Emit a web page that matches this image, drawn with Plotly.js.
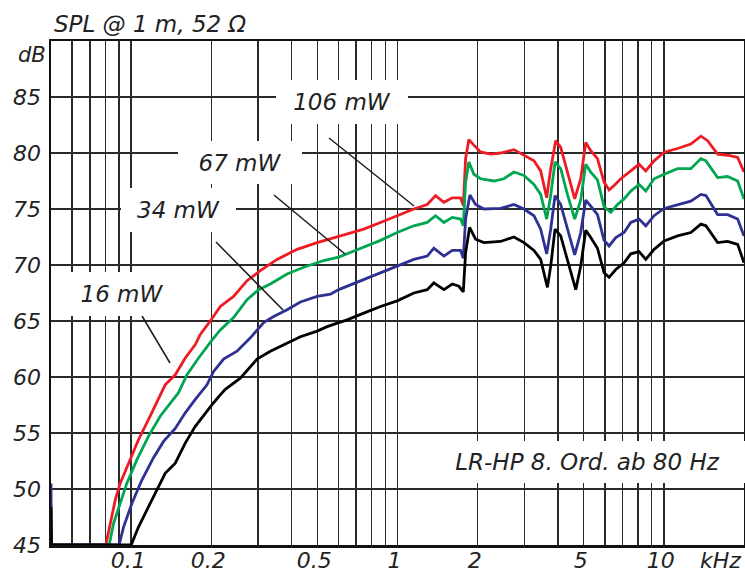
<!DOCTYPE html>
<html>
<head>
<meta charset="utf-8">
<script src="https://cdn.plot.ly/plotly-3.0.1.min.js"></script>
<style>body{margin:0;background:#fff}</style>
</head>
<body>
<div id="chart" style="width:745px;height:572px"></div>
<script>
// Frequency (kHz) / SPL (dB) readings per power level
const f106 = [0.05,0.0502,0.0803,0.0834,0.0871,0.0909,0.0977,0.1065,0.1161,0.1249,0.1342,0.1464,0.1596,0.1741,0.1817,0.1982,0.2161,0.2424,0.2723,0.3055,0.3530,0.4198,0.4991,0.6017,0.6470,0.7468,0.8633,0.9974,1.1515,1.2931,1.3895,1.4934,1.6057,1.7254,1.766,1.8018,1.8535,1.9357,2.0512,2.2367,2.4384,2.7361,2.9840,3.2537,3.4479,3.6325,3.7606,3.9264,4.1007,4.3451,4.6286,4.8753,5.0912,5.3163,5.6342,5.9654,6.2295,6.5055,6.8928,7.5158,8.0740,8.5561,9.1927,10.025,11.26,12.63,13.78,14.60,15.92,17.36,18.93,20];
const spl106 = [46.2,45,45,46.9,49.0,50.5,52.3,54.4,56.2,57.8,59.3,60.2,61.7,62.9,63.8,65.0,66.3,67.2,68.6,69.5,70.5,71.4,72.0,72.55,72.75,73.2,73.8,74.4,75.0,75.4,76.2,75.6,76.0,76.0,75.3,79.5,81.2,80.7,80.1,79.9,80.0,80.3,79.8,79.3,78.4,76.0,78.6,81.1,80.5,78.3,75.9,77.7,80.95,80.2,79.5,77.4,76.7,77.1,77.7,78.4,79.0,78.4,79.3,80.07,80.4,80.8,81.5,81.1,79.9,79.8,79.6,78.3];

const f67 = [0.05,0.0502,0.0827,0.0858,0.0909,0.0963,0.1050,0.1161,0.1285,0.1422,0.1506,0.1620,0.1791,0.2011,0.2161,0.2424,0.2723,0.3010,0.3331,0.3850,0.4444,0.5284,0.6017,0.6470,0.7468,0.8633,0.9974,1.1515,1.2931,1.3895,1.4934,1.6057,1.7254,1.766,1.8018,1.8535,1.9357,2.0512,2.3015,2.5091,2.7361,2.9840,3.2537,3.4479,3.6325,3.7606,3.9034,4.1007,4.3451,4.6286,4.8753,5.0912,5.3163,5.6342,5.9654,6.3223,6.6988,7.0930,7.5158,8.0740,8.5561,9.1927,10.025,11.26,12.63,13.78,14.39,15.92,17.36,18.93,20];
const spl67 = [45.7,45,45,46.9,48.7,50.5,52.6,54.7,56.5,57.8,58.6,60.2,61.7,63.3,64.2,65.3,66.9,67.8,68.3,69.2,69.8,70.4,70.7,71.0,71.6,72.2,72.9,73.5,73.8,74.4,73.8,74.25,74.1,73.5,77.4,79.2,78.1,77.7,77.5,77.7,78.3,78.0,77.2,76.3,74.1,76.2,79.2,78.6,76.3,74.1,75.8,79.0,78.3,77.6,75.2,74.7,75.4,75.9,76.6,77.2,76.6,77.7,78.1,78.6,78.6,79.5,79.3,77.8,77.9,77.5,75.9];

const f34 = [0.05,0.0502,0.0901,0.0936,0.1006,0.1097,0.1213,0.1323,0.1464,0.1596,0.1741,0.1926,0.2040,0.2223,0.2497,0.2802,0.3143,0.3428,0.3850,0.4319,0.4991,0.5601,0.6017,0.6470,0.7468,0.8633,0.9974,1.1515,1.2931,1.3692,1.4934,1.6057,1.7254,1.766,1.8018,1.8698,1.9644,2.1106,2.4384,2.7361,2.9840,3.2537,3.4479,3.6325,3.7606,3.9034,4.1007,4.3451,4.6286,4.8753,5.0912,5.3163,5.6342,5.9654,6.2295,6.6011,7.0930,7.5158,8.0740,8.5561,9.1927,10.025,11.26,12.63,13.78,14.39,15.92,17.36,18.93,20];
const spl34 = [50.5,45,45,46.6,48.7,50.8,52.8,54.25,55.4,56.8,58.0,59.3,60.5,61.6,62.3,63.5,64.85,65.4,66.0,66.7,67.2,67.4,67.8,68.1,68.7,69.3,69.9,70.5,70.8,71.5,70.8,71.3,71.3,70.6,74.1,76.25,75.4,75.0,75.05,75.4,75.0,74.4,73.2,71.0,73.2,76.2,75.4,73.2,70.9,72.9,75.8,75.25,74.5,72.2,71.7,72.45,72.9,73.8,74.1,73.5,74.4,75.05,75.4,75.7,76.3,76.2,74.5,74.5,74.1,72.6];

const f16 = [0.05,0.0502,0.1,0.1065,0.1161,0.1249,0.1342,0.1464,0.1596,0.1741,0.1897,0.2039,0.2161,0.2256,0.2569,0.2969,0.3331,0.3850,0.4319,0.4991,0.5442,0.6017,0.6470,0.7468,0.8633,0.9974,1.1515,1.2931,1.3692,1.4934,1.6057,1.7005,1.766,1.8018,1.8650,1.9644,2.1106,2.4384,2.7361,2.9840,3.2537,3.4479,3.6544,3.7606,3.9034,4.1007,4.3451,4.6693,4.8753,5.0912,5.3163,5.6342,5.9654,6.2295,6.6011,7.0930,7.5158,8.0740,8.5561,9.1927,10.025,11.26,12.63,13.78,14.39,15.92,17.36,18.93,20];
const spl16 = [48.4,45,45,46.6,48.4,49.9,51.4,52.3,54.1,55.6,56.8,57.7,58.4,58.9,59.9,61.6,62.3,63.05,63.6,64.1,64.5,64.85,65.1,65.7,66.3,66.8,67.5,67.8,68.4,67.8,68.3,68.1,67.6,71.1,73.35,72.3,72.0,72.1,72.5,72.0,71.3,70.5,68.0,69.9,73.2,72.6,70.5,67.8,69.9,73.1,72.45,71.5,69.3,68.9,69.6,70.2,71.0,71.2,70.5,71.4,72.15,72.6,72.9,73.65,73.5,72.0,72.1,71.85,70.2];

const seriesNames = ['106 mW','67 mW','34 mW','16 mW'];
const seriesColors = ['#ed1c24','#00a651','#2e3192','#000000'];

const xGrid = [0.06,0.07,0.08,0.09,0.1,0.2,0.3,0.4,0.5,0.6,0.7,0.8,0.9,1,2,3,4,5,6,7,8,9,10];
const xLabels = ['','','','','0.1','0.2','','','0.5','','','','','1','2','','','5','','','','','10'];
const yTicks = [45,50,55,60,65,70,75,80,85];

const titleText = 'SPL @ 1 m, 52 Ω';
const yUnit = 'dB';
const xUnit = 'kHz';
const noteText = 'LR-HP 8. Ord. ab 80 Hz';

// plot-area pixel helpers (plot area: x 51..744, y 41..545)
const PL = 51, PW = 693, PB = 545, PH = 504;
const px = v => (v - PL) / PW;
const py = v => (PB - v) / PH;

const FONT = 'DejaVu Sans, Liberation Sans, Arial, sans-serif';
const txtFont = {family: FONT, size: 23, style: 'italic', color: '#222'};

const xs = [f106, f67, f34, f16];
const ys = [spl106, spl67, spl34, spl16];
const traces = xs.map((x, i) => ({
  type: 'scatter', mode: 'lines', x: x, y: ys[i], name: seriesNames[i],
  line: {color: seriesColors[i], width: 2.8}, hoverinfo: 'skip'
}));

function box(text, cx, cy, w, h) {
  return {xref: 'paper', yref: 'paper', x: px(cx), y: py(cy), xanchor: 'center', yanchor: 'middle',
    text: text, showarrow: false, bgcolor: '#ffffff', width: w, height: h, borderpad: 0, borderwidth: 0,
    font: txtFont};
}

const annotations = [
  box(seriesNames[0], 342, 102, 132, 44),
  box(seriesNames[1], 240, 162.5, 124, 43),
  box(seriesNames[2], 178, 210, 115, 44),
  box(seriesNames[3], 122, 294, 112, 44),
  box(noteText, 587, 462, 315, 42),
  {xref:'paper', yref:'paper', x: px(52), y: py(24), xanchor:'left', yanchor:'middle', text: titleText, showarrow:false, font: txtFont},
  {xref:'paper', yref:'paper', x: px(48), y: py(55), xanchor:'right', yanchor:'middle', text: yUnit, showarrow:false, font: {family: FONT, size: 21, style:'italic', color:'#222'}},
  {xref:'paper', yref:'paper', x: px(720), y: py(560), xanchor:'center', yanchor:'middle', text: xUnit, showarrow:false, font: {family: FONT, size: 22, style:'italic', color:'#222'}}
];

function seg(x0, y0, x1, y1) {
  return {type:'line', xref:'paper', yref:'paper', x0: px(x0), y0: py(y0), x1: px(x1), y1: py(y1),
    line: {color:'#1a1a1a', width: 1.5}, layer: 'above'};
}
const shapes = [
  seg(329,138,414,206),
  seg(274,195,345,254),
  seg(216,242,283,310),
  seg(142,316,170,363)
];

const layout = {
  width: 745, height: 572,
  margin: {l: PL, r: 1, t: 41, b: 27, pad: 0},
  paper_bgcolor: '#ffffff', plot_bgcolor: '#ffffff',
  showlegend: false,
  xaxis: {
    type: 'log', range: [Math.log10(0.05), Math.log10(20)],
    tickmode: 'array', tickvals: xGrid, ticktext: xLabels,
    showgrid: true, gridcolor: '#2a2a2a', gridwidth: 1.6,
    showline: true, linecolor: '#111', linewidth: 2.5, mirror: true,
    ticks: '', zeroline: false, ticklabelstandoff: -6, ticklabelshift: -3,
    tickfont: {family: FONT, size: 22, style: 'italic', color: '#222'}
  },
  yaxis: {
    range: [45, 90], tickmode: 'array', tickvals: yTicks,
    showgrid: true, gridcolor: '#2a2a2a', gridwidth: 1.6,
    showline: true, linecolor: '#111', linewidth: 2.5, mirror: true,
    ticks: '', zeroline: false, ticklabelstandoff: 3,
    tickfont: {family: FONT, size: 22, style: 'italic', color: '#222'}
  },
  annotations: annotations,
  shapes: shapes
};

Plotly.newPlot('chart', traces, layout, {displayModeBar: false, staticPlot: true});
</script>
</body>
</html>
